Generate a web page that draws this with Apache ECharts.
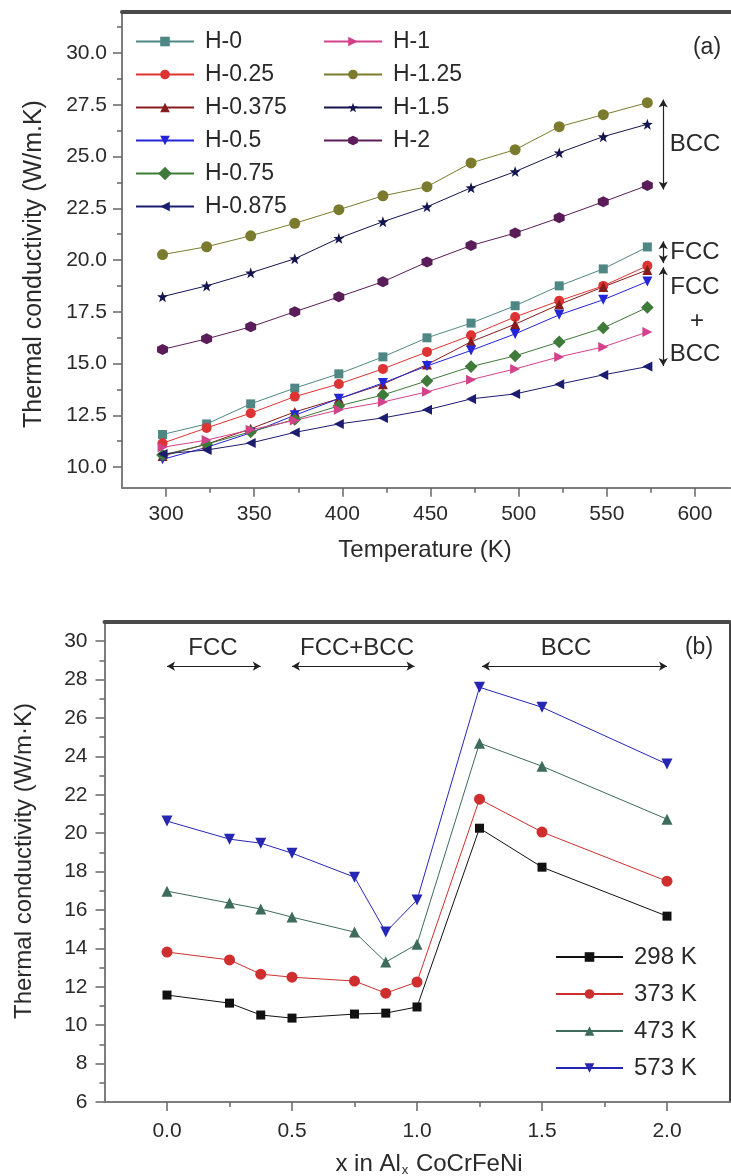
<!DOCTYPE html>
<html><head><meta charset="utf-8">
<script src="https://cdn.jsdelivr.net/npm/echarts@6/dist/echarts.min.js"></script>
<style>html,body{margin:0;padding:0;background:#fff}#c{width:731px;height:1176px}</style>
</head><body><div id="c"></div>
<script>
// ---------- data: panel (a) ----------
const temperatures = [298, 323, 348, 373, 398, 423, 448, 473, 498, 523, 548, 573];
const H_0    = [11.57, 12.08, 13.05, 13.81, 14.50, 15.32, 16.24, 16.95, 17.79, 18.75, 19.57, 20.63];
const H_025  = [11.15, 11.89, 12.60, 13.40, 14.01, 14.74, 15.56, 16.36, 17.25, 18.03, 18.75, 19.72];
const H_0375 = [10.53, 11.10, 11.85, 12.66, 13.30, 14.00, 14.95, 16.05, 16.90, 17.85, 18.70, 19.52];
const H_05   = [10.37, 10.95, 11.65, 12.50, 13.30, 14.06, 14.88, 15.63, 16.43, 17.35, 18.08, 18.96];
const H_075  = [10.58, 11.10, 11.70, 12.30, 12.95, 13.48, 14.16, 14.85, 15.37, 16.04, 16.72, 17.71];
const H_0875 = [10.63, 10.82, 11.16, 11.67, 12.08, 12.37, 12.76, 13.29, 13.53, 14.00, 14.45, 14.85];
const H_1    = [10.95, 11.30, 11.80, 12.25, 12.76, 13.14, 13.63, 14.22, 14.74, 15.32, 15.80, 16.52];
const H_125  = [20.26, 20.64, 21.17, 21.77, 22.43, 23.10, 23.54, 24.69, 25.33, 26.44, 27.02, 27.60];
const H_15   = [18.23, 18.75, 19.38, 20.06, 21.05, 21.85, 22.57, 23.49, 24.27, 25.18, 25.96, 26.56];
const H_2    = [15.68, 16.19, 16.77, 17.50, 18.22, 18.95, 19.90, 20.70, 21.30, 22.04, 22.81, 23.60];
const xTicksA = [300, 350, 400, 450, 500, 550, 600];
const yTicksA = ['10.0', '12.5', '15.0', '17.5', '20.0', '22.5', '25.0', '27.5', '30.0'];

// ---------- data: panel (b) ----------
const alContent = [0, 0.25, 0.375, 0.5, 0.75, 0.875, 1.0, 1.25, 1.5, 2.0];
const K298 = [11.57, 11.15, 10.53, 10.37, 10.58, 10.63, 10.95, 20.26, 18.23, 15.68];
const K373 = [13.81, 13.40, 12.66, 12.50, 12.30, 11.67, 12.25, 21.77, 20.06, 17.50];
const K473 = [16.98, 16.36, 16.05, 15.63, 14.85, 13.29, 14.22, 24.69, 23.49, 20.73];
const K573 = [20.63, 19.69, 19.48, 18.96, 17.71, 14.85, 16.52, 27.60, 26.56, 23.60];
const xTicksB = ['0.0', '0.5', '1.0', '1.5', '2.0'];
const yTicksB = [6, 8, 10, 12, 14, 16, 18, 20, 22, 24, 26, 28, 30];

const FONT = '"Liberation Sans", Arial, Helvetica, sans-serif';
const TXT = '#2a2a2a';

const grids = [], xAxes = [], yAxes = [];
function addGrid(r) { grids.push({ left: r.left, top: r.top, width: r.width, height: r.height, containLabel: false }); return grids.length - 1; }
function addX(o) { xAxes.push(Object.assign({ type: 'value', splitLine: { show: false } }, o)); return xAxes.length - 1; }
function addY(o) { yAxes.push(Object.assign({ type: 'value', splitLine: { show: false } }, o)); return yAxes.length - 1; }
const hidden = (g) => ({ gridIndex: g, min: 0, max: 1, show: false, axisLine: { onZero: false } });

function buildPanel(P) {
  const R = P.rect;
  const g = addGrid(R);
  const lineStyle = { color: '#7d7d7d', width: 2 };
  const xi = addX({ gridIndex: g, min: P.xr[0], max: P.xr[1], axisLine: { show: true, onZero: false, lineStyle }, axisTick: { show: false }, axisLabel: { show: false } });
  const yi = addY({ gridIndex: g, min: P.yr[0], max: P.yr[1], axisLine: { show: true, onZero: false, lineStyle }, axisTick: { show: false }, axisLabel: { show: false } });
  addX({ gridIndex: g, position: 'top', min: P.xr[0], max: P.xr[1], axisLine: { show: true, onZero: false, lineStyle: { color: '#4a4a4a', width: 4 } }, axisTick: { show: false }, axisLabel: { show: false } });
  if (P.rightBorder) addY({ gridIndex: g, position: 'right', min: P.yr[0], max: P.yr[1], axisLine: { show: true, onZero: false, lineStyle: { color: '#444', width: 2 } }, axisTick: { show: false }, axisLabel: { show: false } });
  const sx = R.width / (P.xr[1] - P.xr[0]);
  const sy = R.height / (P.yr[1] - P.yr[0]);
  const tickStyle = { color: '#666', width: 1.5 };
  P.xTicks.forEach(t => {
    const gg = addGrid({ left: R.left + (t.min - P.xr[0]) * sx, width: (t.max - t.min) * sx, top: R.top, height: R.height });
    addX({ gridIndex: gg, min: t.min, max: t.max, interval: t.interval,
      axisLine: { show: false, onZero: false }, axisTick: { show: true, length: t.len, lineStyle: tickStyle },
      axisLabel: { show: !!t.fmt, formatter: t.fmt, margin: P.xMargin, fontSize: 21, color: TXT, fontFamily: FONT } });
    addY(hidden(gg));
  });
  P.yTicks.forEach(t => {
    const gg = addGrid({ left: R.left, width: R.width, top: R.top + (P.yr[1] - t.max) * sy, height: (t.max - t.min) * sy });
    addX(hidden(gg));
    addY({ gridIndex: gg, min: t.min, max: t.max, interval: t.interval,
      axisLine: { show: false, onZero: false }, axisTick: { show: true, length: t.len, lineStyle: tickStyle },
      axisLabel: { show: !!t.fmt, formatter: t.fmt, margin: P.yMargin, fontSize: 21, color: TXT, fontFamily: FONT } });
  });
  return { xi, yi };
}

// panel (a): 1.7629 px per K, 20.7 px per W/m.K ; right edge at the page edge
const A = buildPanel({
  rect: { left: 122, top: 11.6, width: (620 - 275) * 1.7629, height: 476.1 },
  xr: [275, 620], yr: [9, 32], rightBorder: false, xMargin: 16, yMargin: 15,
  xTicks: [
    { min: xTicksA[0], max: xTicksA[xTicksA.length - 1], interval: 50, len: 9, fmt: v => String(v) },
    { min: 325, max: 575, interval: 50, len: 5 }
  ],
  yTicks: [
    { min: +yTicksA[0], max: +yTicksA[yTicksA.length - 1], interval: 2.5, len: 9, fmt: v => { const s = v.toFixed(1); return yTicksA.includes(s) ? s : ''; } },
    { min: 11.25, max: 31.25, interval: 2.5, len: 5 }
  ]
});
const B = buildPanel({
  rect: { left: 104.5, top: 622, width: 625, height: 480 },
  xr: [-0.25, 2.25], yr: [6, 31], rightBorder: true, xMargin: 19, yMargin: 17,
  xTicks: [
    { min: +xTicksB[0], max: +xTicksB[xTicksB.length - 1], interval: 0.5, len: 9, fmt: v => v.toFixed(1) },
    { min: 0.25, max: 1.75, interval: 0.5, len: 5 }
  ],
  yTicks: [
    { min: yTicksB[0], max: yTicksB[yTicksB.length - 1], interval: 2, len: 9, fmt: v => String(v) },
    { min: 7, max: 29, interval: 2, len: 5 }
  ]
});

const STAR = 'path://M0,-10L2.35,-3.24L9.51,-3.09L3.8,1.24L5.88,8.09L0,4L-5.88,8.09L-3.8,1.24L-9.51,-3.09L-2.35,-3.24Z';
const HEX = 'path://M0,-10L8.66,-5L8.66,5L0,10L-8.66,5L-8.66,-5Z';

const seriesA = [
  { name: 'H-0',     data: H_0,    color: '#4f8784', symbol: 'rect', size: 9 },
  { name: 'H-0.25',  data: H_025,  color: '#dd3333', symbol: 'circle', size: 10 },
  { name: 'H-0.375', data: H_0375, color: '#861c1c', symbol: 'triangle', size: 10 },
  { name: 'H-0.5',   data: H_05,   color: '#2424d8', symbol: 'triangle', rot: 180, size: 10 },
  { name: 'H-0.75',  data: H_075,  color: '#3f7a3a', symbol: 'rect', rot: 45, size: 9 },
  { name: 'H-0.875', data: H_0875, color: '#1c1c70', symbol: 'triangle', rot: 90, size: 10 },
  { name: 'H-1',     data: H_1,    color: '#d2428a', symbol: 'triangle', rot: -90, size: 10 },
  { name: 'H-1.25',  data: H_125,  color: '#7b7b2e', symbol: 'circle', size: 11 },
  { name: 'H-1.5',   data: H_15,   color: '#14144e', symbol: STAR, size: 11 },
  { name: 'H-2',     data: H_2,    color: '#5a1d5a', symbol: HEX, size: 11 }
];
const seriesB = [
  { name: '298 K', data: K298, color: '#111111', symbol: 'rect', size: 9 },
  { name: '373 K', data: K373, color: '#cf2e2e', symbol: 'circle', size: 11 },
  { name: '473 K', data: K473, color: '#3d6b5c', symbol: 'triangle', size: 11 },
  { name: '573 K', data: K573, color: '#2626b4', symbol: 'triangle', rot: 180, size: 11 }
];

const arrowLine = { symbol: ['arrow', 'arrow'], symbolSize: [7, 8], silent: true, label: { show: false },
  lineStyle: { color: '#222', width: 1.2, type: 'solid' }, emphasis: { disabled: true } };

const series = [];
seriesA.forEach(s => {
  const o = {
    type: 'line', name: s.name, xAxisIndex: A.xi, yAxisIndex: A.yi,
    data: temperatures.map((t, i) => [t, s.data[i]]),
    symbol: s.symbol, symbolSize: s.size, symbolRotate: s.rot || 0,
    lineStyle: { width: 1, color: s.color }, itemStyle: { color: s.color }, emphasis: { disabled: true }
  };
  if (s.name === 'H-1.25') o.markLine = Object.assign({ data: [[{ coord: [582, 27.75] }, { coord: [582, 23.4] }]] }, arrowLine);
  if (s.name === 'H-0') o.markLine = Object.assign({ data: [
    [{ coord: [582, 20.9] }, { coord: [582, 19.85] }],
    [{ coord: [582, 19.65] }, { coord: [582, 14.88] }]
  ] }, arrowLine);
  series.push(o);
});
seriesB.forEach(s => {
  const o = {
    type: 'line', name: s.name, xAxisIndex: B.xi, yAxisIndex: B.yi,
    data: alContent.map((x, i) => [x, s.data[i]]),
    symbol: s.symbol, symbolSize: s.size, symbolRotate: s.rot || 0,
    lineStyle: { width: 1, color: s.color }, itemStyle: { color: s.color }, emphasis: { disabled: true }
  };
  if (s.name === '573 K') o.markLine = Object.assign({ data: [
    [{ coord: [0, 28.7] }, { coord: [0.375, 28.7] }],
    [{ coord: [0.5, 28.7] }, { coord: [0.99, 28.7] }],
    [{ coord: [1.26, 28.7] }, { coord: [2.0, 28.7] }]
  ] }, arrowLine);
  series.push(o);
});

const legendBase = { orient: 'vertical', padding: 0, selectedMode: false, itemHeight: 12 };
const legend = [
  Object.assign({}, legendBase, { left: 135, top: 30, itemWidth: 58, itemGap: 10, data: seriesA.slice(0, 6).map(s => s.name),
    textStyle: { fontSize: 23, color: TXT, fontFamily: FONT, padding: [0, 0, 0, 6] } }),
  Object.assign({}, legendBase, { left: 323, top: 30, itemWidth: 58, itemGap: 10, data: seriesA.slice(6).map(s => s.name),
    textStyle: { fontSize: 23, color: TXT, fontFamily: FONT, padding: [0, 0, 0, 6] } }),
  Object.assign({}, legendBase, { left: 555, top: 945, itemWidth: 67, itemGap: 13, data: seriesB.map(s => s.name),
    textStyle: { fontSize: 24, color: TXT, fontFamily: FONT, padding: [0, 0, 0, 6] } })
];

const T = (text, x, y, size, extra) => Object.assign({ type: 'text', x, y, silent: true,
  style: { text, fontSize: size, fontFamily: FONT, fill: TXT, align: 'center', verticalAlign: 'middle' } }, extra || {});
const graphic = [
  T('(a)', 707, 48, 23), T('BCC', 695, 144, 24), T('FCC', 695, 252, 24), T('FCC', 695, 287, 24),
  T('+', 697, 321, 24), T('BCC', 695, 354, 24),
  T('(b)', 699, 648, 23), T('FCC', 213, 648, 24), T('FCC+BCC', 357, 648, 24), T('BCC', 566, 648, 24),
  T('Thermal conductivity (W/m.K)', 34, 264, 25, { rotation: Math.PI / 2 }),
  T('Thermal conductivity (W/m·K)', 24, 861, 24, { rotation: Math.PI / 2 }),
  T('Temperature (K)', 425, 550, 24),
  { type: 'text', x: 429, y: 1164, silent: true, style: {
      text: '{n|x in Al}{s|x}{n| CoCrFeNi}', align: 'center', verticalAlign: 'middle', fill: TXT, fontFamily: FONT,
      rich: { n: { fontSize: 24, fontFamily: FONT, fill: TXT, lineHeight: 26 },
              s: { fontSize: 13, fontFamily: FONT, fill: TXT, verticalAlign: 'bottom', lineHeight: 26, padding: [0, 1, 0, 1] } } } }
];

const chart = echarts.init(document.getElementById('c'), null, { renderer: 'canvas' });
chart.setOption({
  animation: false, backgroundColor: '#ffffff', textStyle: { fontFamily: FONT },
  grid: grids, xAxis: xAxes, yAxis: yAxes, legend, series, graphic
});
</script></body></html>
